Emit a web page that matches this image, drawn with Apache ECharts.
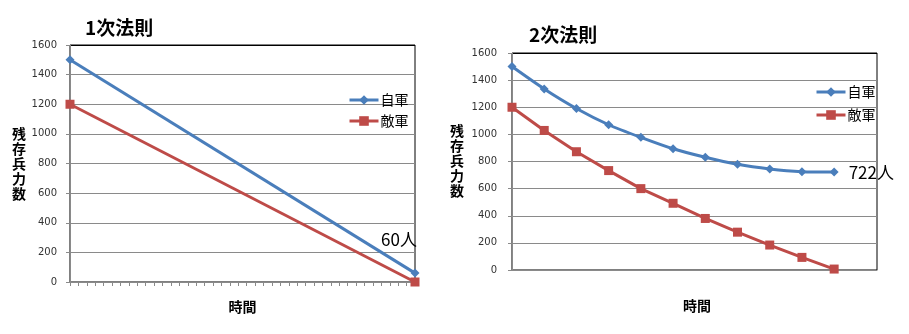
<!DOCTYPE html>
<html>
<head>
<meta charset="utf-8">
<script src="https://cdn.jsdelivr.net/npm/echarts@6/dist/echarts.min.js"></script>
<style>html,body{margin:0;padding:0;background:#fff}#c{width:909px;height:334px}</style>
</head>
<body>
<div id="c"></div>
<script>
// Chart 1: 1次法則 (linear law)
const title1 = '1次法則';
const time1 = [0, 41];
const own1 = [1500, 60];
const enemy1 = [1200, 0];
const endLabel1 = '60人';

// Chart 2: 2次法則 (square law)
const title2 = '2次法則';
const time2 = [0, 1, 2, 3, 4, 5, 6, 7, 8, 9, 10];
const own2 = [1500, 1335, 1191, 1071, 978, 894, 831, 779, 745, 725, 722];
const enemy2 = [1200, 1029, 872, 733, 600, 492, 380, 279, 184, 93, 7];
const endLabel2 = '722人';

const seriesNames = ['自軍', '敵軍'];
const yTicks = [0, 200, 400, 600, 800, 1000, 1200, 1400, 1600];
const yName = '残\n存\n兵\n力\n数';
const xName = '時間';

const BLUE = '#4A7EBB', RED = '#BE4B48', GRID = '#8a8a8a';
const CJK = '"Noto Sans CJK JP", sans-serif';

function pairs(xs, ys) { return xs.map((x, i) => [x, ys[i]]); }

function yAxis(gi, margin) {
  const colors = yTicks.map((v, i) => i === yTicks.length - 1 ? '#000' : GRID);
  return {
    type: 'value', gridIndex: gi, min: yTicks[0], max: yTicks[yTicks.length - 1], interval: 200,
    axisLine: { show: true, lineStyle: { color: GRID, width: 1 } },
    axisTick: { show: true, length: 4, lineStyle: { color: GRID } },
    axisLabel: { margin: margin, fontFamily: 'DejaVu Sans', fontSize: 10, color: '#333', formatter: v => String(v) },
    splitLine: { show: true, lineStyle: { color: colors, width: 1 } }
  };
}

function lineSeries(name, data, gi, color, symbol, size, labelText, labelOpt, smooth) {
  const last = data.length - 1;
  return {
    type: 'line', name: name, xAxisIndex: gi, yAxisIndex: gi, data: data,
    symbol: symbol, symbolSize: size, clip: false, smooth: smooth || false,
    lineStyle: { color: color, width: 3 }, itemStyle: { color: color },
    label: labelText ? Object.assign({
      show: true, fontFamily: CJK, fontSize: 17, color: '#000',
      formatter: p => p.dataIndex === last ? labelText : ''
    }, labelOpt) : { show: false },
    emphasis: { disabled: true }, animation: false, z: name === seriesNames[0] ? 4 : 3
  };
}

const legendBase = {
  data: seriesNames, orient: 'vertical', itemWidth: 29, itemHeight: 12, selectedMode: false,
  lineStyle: { width: 3 },
  textStyle: { fontFamily: CJK, fontSize: 14, color: '#000', padding: [0, 0, 0, -3] }
};

const chart = echarts.init(document.getElementById('c'), null, { renderer: 'canvas' });
chart.setOption({
  backgroundColor: '#fff',
  animation: false,
  title: [
    { text: title1, left: 80, top: 13, textStyle: { fontFamily: CJK, fontSize: 19, fontWeight: 'bold', color: '#000' } },
    { text: title2, left: 524, top: 20, textStyle: { fontFamily: CJK, fontSize: 19, fontWeight: 'bold', color: '#000' } }
  ],
  legend: [
    Object.assign({}, legendBase, { left: 343, top: 88, itemGap: 7 }),
    Object.assign({}, legendBase, { left: 810, top: 80, itemGap: 9 })
  ],
  grid: [
    { left: 70, top: 45, width: 345, height: 237, show: true, borderColor: '#000', borderWidth: 1, backgroundColor: 'transparent' },
    { left: 512, top: 53, width: 365, height: 217, show: true, borderColor: '#000', borderWidth: 1, backgroundColor: 'transparent' }
  ],
  xAxis: [
    { type: 'value', gridIndex: 0, min: time1[0], max: time1[time1.length - 1], interval: 1,
      name: xName, nameLocation: 'middle', nameGap: 18,
      nameTextStyle: { fontFamily: CJK, fontSize: 14, fontWeight: 'bold', color: '#000' },
      axisLine: { show: true, lineStyle: { color: GRID } },
      axisTick: { show: true, length: 4, lineStyle: { color: GRID } },
      axisLabel: { show: false }, splitLine: { show: false } },
    { type: 'value', gridIndex: 1, min: 0, max: 11.33,
      name: xName, nameLocation: 'middle', nameGap: 29,
      nameTextStyle: { fontFamily: CJK, fontSize: 14, fontWeight: 'bold', color: '#000', padding: [0, 0, 0, 5] },
      axisLine: { show: true, lineStyle: { color: GRID } },
      axisTick: { show: false }, axisLabel: { show: false }, splitLine: { show: false } }
  ],
  yAxis: [yAxis(0, 13), yAxis(1, 15)],
  graphic: [
    { type: 'text', left: 12, top: 126, style: { text: yName, fontFamily: CJK, fontSize: 14, fontWeight: 'bold', lineHeight: 15, fill: '#000' } },
    { type: 'text', left: 450, top: 123, style: { text: yName, fontFamily: CJK, fontSize: 14, fontWeight: 'bold', lineHeight: 15, fill: '#000' } }
  ],
  series: [
    lineSeries(seriesNames[0], pairs(time1, own1), 0, BLUE, 'diamond', 9, endLabel1, { position: 'top', distance: 0, offset: [-16, -21] }),
    lineSeries(seriesNames[1], pairs(time1, enemy1), 0, RED, 'rect', 9),
    lineSeries(seriesNames[0], pairs(time2, own2), 1, BLUE, 'diamond', 9, endLabel2, { position: 'right', distance: 10 }, 0.25),
    lineSeries(seriesNames[1], pairs(time2, enemy2), 1, RED, 'rect', 9)
  ]
});
</script>
</body>
</html>
